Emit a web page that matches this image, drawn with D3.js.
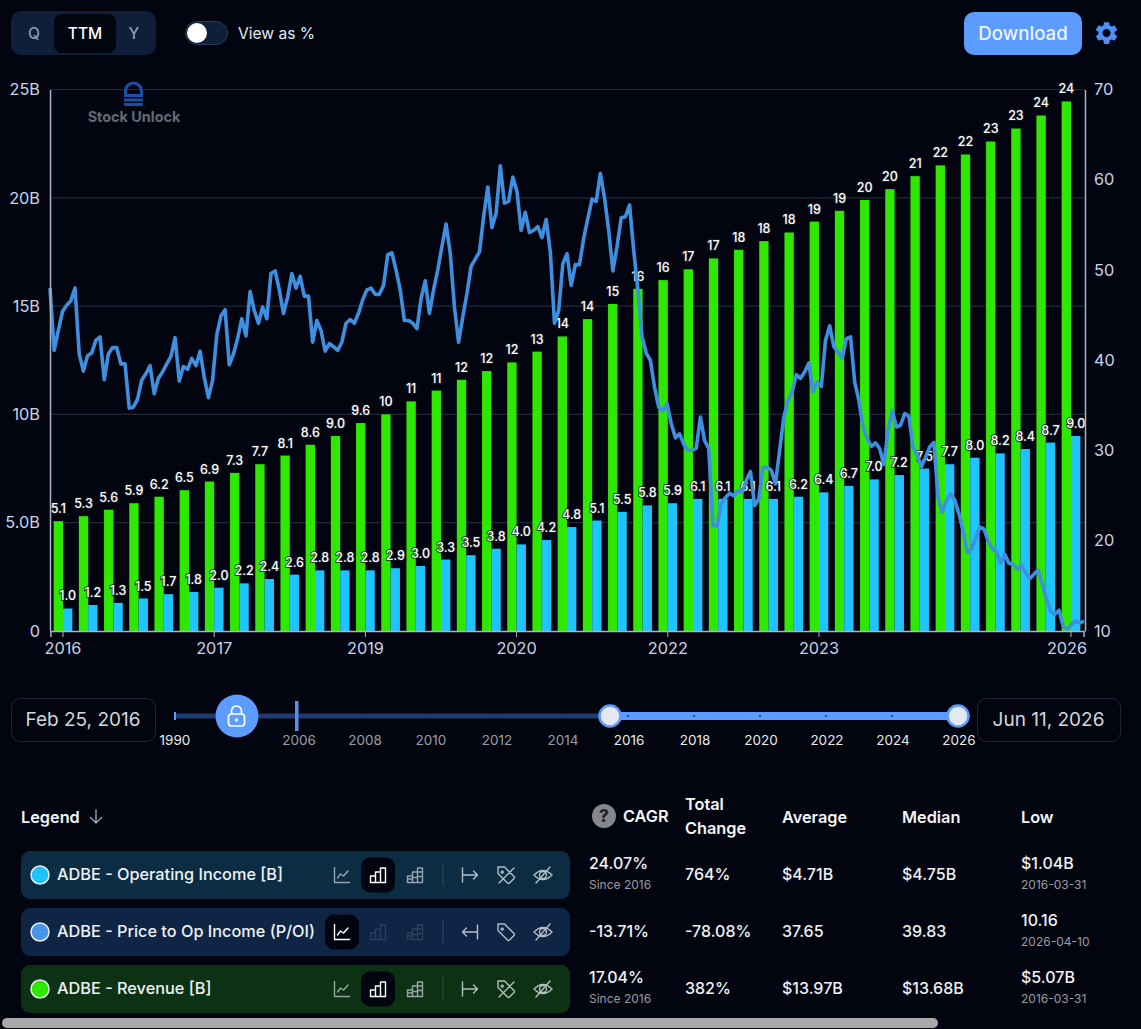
<!DOCTYPE html>
<html>
<head>
<meta charset="utf-8">
<script src="https://d3js.org/d3.v7.min.js"></script>
<style>
	html, body { margin: 0; padding: 0; background: #020510; overflow: hidden; }
	svg { display: block; font-family: Inter, "Noto Sans", sans-serif; }
	.barlabel { font-size: 12.5px; font-weight: 500; fill: #fff; stroke: #1a1d24; stroke-width: 1.6px; paint-order: stroke; text-anchor: middle; }
	.axis text { font-family: Inter, sans-serif; font-size: 16.3px; fill: #c9d3e6; }
	.axis .domain { stroke: #aab4c8; stroke-width: 1.5; }
	.axis .tick line { stroke: #aab4c8; }
	.icon { fill: none; stroke-width: 1.4; stroke-linecap: round; stroke-linejoin: round; }
</style>
</head>
<body>
<svg id="chart" width="1141" height="1029"></svg>
<script>
// quarter ends, first one 2016-03-31
var quarters = ["2016-03-31","2016-06-30","2016-09-30","2016-12-31","2017-03-31","2017-06-30","2017-09-30","2017-12-31",
	"2018-03-31","2018-06-30","2018-09-30","2018-12-31","2019-03-31","2019-06-30","2019-09-30","2019-12-31",
	"2020-03-31","2020-06-30","2020-09-30","2020-12-31","2021-03-31","2021-06-30","2021-09-30","2021-12-31",
	"2022-03-31","2022-06-30","2022-09-30","2022-12-31","2023-03-31","2023-06-30","2023-09-30","2023-12-31",
	"2024-03-31","2024-06-30","2024-09-30","2024-12-31","2025-03-31","2025-06-30","2025-09-30","2025-12-31","2026-03-31"]
var xTickQuarters = ["2016-03-31","2017-09-30","2019-03-31","2020-09-30","2022-03-31","2023-09-30","2026-03-31"]

var revenue = [5.07,5.3,5.6,5.9,6.2,6.5,6.9,7.3,7.7,8.1,8.6,9.0,9.6,10.0,10.6,11.1,11.6,12.0,12.4,12.9,13.6,
	14.4,15.1,15.8,16.2,16.7,17.2,17.6,18.0,18.4,18.9,19.4,19.9,20.4,21.0,21.5,22.0,22.6,23.2,23.8,24.45]

var opIncome = [1.04,1.2,1.3,1.5,1.7,1.8,2.0,2.2,2.4,2.6,2.8,2.8,2.8,2.9,3.0,3.3,3.5,3.8,4.0,4.2,4.8,
	5.1,5.5,5.8,5.9,6.1,6.1,6.1,6.1,6.2,6.4,6.7,7.0,7.2,7.5,7.7,8.0,8.2,8.4,8.7,9.0]

// price to op income, about two readings a month between the two dates below
var poiStart = "2016-02-25"
var poiEnd = "2026-06-11"
var priceToOpIncome = [48,41.1,43.3,45.4,46.1,46.6,48,40.7,38.8,40.5,40.8,42.2,42.6,37.85,40.7,41.4,41.4,39.6,39.6,34.7,
	34.8,35.7,37.8,38.5,39.4,36.3,38,38.7,39.6,40.4,42.5,37.7,39.3,39,40.2,39.4,41,38.1,35.85,37.8,
	42.8,44.9,45.6,39.5,40.7,42.4,44.6,42.7,47.6,45.5,44.1,45.9,44.6,49.6,49.9,47.8,45.2,47,49.6,48,
	49.3,47.1,47.1,42,44.4,43.3,41,41.85,41.5,41.1,42,44.1,44.5,44.1,45.2,46.7,47.8,48,47.3,47.3,
	48.3,51.7,51.9,50,47.8,44.4,44.4,44.1,43.5,46.85,48.8,45.2,47.8,50,52.6,55.1,51.85,45.9,42,44.8,
	47.4,50.4,51.2,52,55.9,59.2,54.7,56.3,61.55,57.4,57.6,60.3,58.7,54.4,56.4,54.15,54.4,54.8,53.6,55.6,
	52,44.1,45.5,50.7,51.8,48.3,50.6,50.6,53.5,55.7,57.85,57.6,60.7,58,54.4,49.9,52.6,55.8,55.9,57.2,
	52.2,47.8,42.6,40.8,40,37,34.8,34.4,35.2,33,31.4,31.85,30.7,30,30,30.25,33.7,31.1,30.2,21.7,
	21.6,24.1,24.8,25.25,25,25.55,25.35,26.7,27.65,23.9,24.6,28.15,28.15,27.8,26.3,30,33.7,35.55,36.5,38.4,
	38,38.7,39.7,36.5,37.6,37.1,42.2,43.8,41.5,40.9,40.2,42.4,42.6,37.6,35.55,32.6,31.3,30.45,30.85,30.2,
	28.45,32.2,34.45,32.6,32.8,34.1,33.8,30.4,29.45,28.2,29.25,30.4,30.9,24.8,23.15,24.45,25.2,24.5,23,21.1,
	18.7,19.1,20.2,21.5,21.3,20,19.1,18.8,17.5,18.5,17.5,17.4,16.85,17.3,16.5,15.8,16.3,16.75,15.2,13.5,
	12.2,11.85,12.3,10.55,10.16,10.75,11.1,10.9,11.1]

var leftTicks = [0,5,10,15,20,25]
var leftTickLabels = ["0","5.0B","10B","15B","20B","25B"]
var rightTicks = [10,20,30,40,50,60,70]
var sliderYears = [2006,2008,2010,2012,2014,2016,2018,2020,2022,2024,2026]

var seriesNames = ["ADBE - Operating Income [B]","ADBE - Price to Op Income (P/OI)","ADBE - Revenue [B]"]
var cagr = ["24.07%","-13.71%","17.04%"]
var cagrSince = ["Since 2016","","Since 2016"]
var totalChange = ["764%","-78.08%","382%"]
var average = ["$4.71B","37.65","$13.97B"]
var median = ["$4.75B","39.83","$13.68B"]
var low = ["$1.04B","10.16","$5.07B"]
var lowDate = ["2016-03-31","2026-04-10","2016-03-31"]

var green = "#2fe800", cyan = "#1fc4ff", lineBlue = "#3f8fe0", accent = "#5c9bff"

var svg = d3.select("#chart")
var top_ = 89.5, bottom = 631, left = 50, right = 1085

var x = d3.scaleBand().domain(quarters).range([50.4, 1083.6]).paddingInner(0.258).paddingOuter(0.129)
var xInner = d3.scaleBand().domain(["rev","op"]).range([0, x.bandwidth()])
var yLeft = d3.scaleLinear().domain([0, 25]).range([bottom, top_])
var yRight = d3.scaleLinear().domain([10, 70]).range([bottom, top_])
var xTime = d3.scaleTime().domain([new Date(poiStart), new Date(poiEnd)]).range([left, right - 1])

// grid
svg.append("g").selectAll("line").data(leftTicks.slice(1)).join("line")
	.attr("x1", left).attr("x2", right)
	.attr("y1", d => yLeft(d)).attr("y2", d => yLeft(d))
	.attr("stroke", "#222838").attr("stroke-width", 1.2)

// watermark
var mark = svg.append("g").attr("transform", "translate(133.5,95)")
mark.append("path").attr("fill", "none").attr("stroke", "#1f4fa3").attr("stroke-width", 3.2)
	.attr("d", "M-8,-1V-4A8,8 0 0 1 8,-4V-1")
mark.append("path").attr("fill", "none").attr("stroke", "#1f4fa3").attr("stroke-width", 3.2)
	.attr("d", "M-9.5,0.5H9.5 M-9.5,5H9.5 M-9.5,9.5H9.5")
svg.append("text").attr("x", 134).attr("y", 122).attr("text-anchor", "middle")
	.attr("font-size", 14.4).attr("font-weight", 700).attr("fill", "#646a75").text("Stock Unlock")

// bars
var groups = svg.append("g").selectAll("g").data(quarters).join("g")
	.attr("transform", d => "translate(" + x(d) + ",0)")
groups.append("rect").attr("x", xInner("rev")).attr("width", xInner.bandwidth())
	.attr("y", (d, i) => yLeft(revenue[i])).attr("height", (d, i) => bottom - yLeft(revenue[i]))
	.attr("fill", green)
groups.append("rect").attr("x", xInner("op")).attr("width", xInner.bandwidth())
	.attr("y", (d, i) => yLeft(opIncome[i])).attr("height", (d, i) => bottom - yLeft(opIncome[i]))
	.attr("fill", cyan)

function barText(v) {
	return v < 9.95 ? v.toFixed(1) : String(Math.round(v))
}
groups.append("text").attr("class", "barlabel")
	.attr("x", xInner("rev") + xInner.bandwidth() / 2)
	.attr("y", (d, i) => yLeft(revenue[i]) - 8)
	.text((d, i) => barText(revenue[i]))
groups.append("text").attr("class", "barlabel")
	.attr("x", xInner("op") + xInner.bandwidth() / 2)
	.attr("y", (d, i) => yLeft(opIncome[i]) - 8)
	.text((d, i) => barText(opIncome[i]))

// P/OI line, over bars and labels
var stepMs = (new Date(poiEnd) - new Date(poiStart)) / (priceToOpIncome.length - 1)
var line = d3.line()
	.x((d, i) => xTime(new Date(+new Date(poiStart) + i * stepMs)))
	.y(d => yRight(d))
svg.append("path").datum(priceToOpIncome).attr("d", line)
	.attr("fill", "none").attr("stroke", lineBlue).attr("stroke-width", 3.6).attr("stroke-linejoin", "round")

// axes
var axL = svg.append("g").attr("class", "axis").attr("transform", "translate(" + left + ",0)")
	.call(d3.axisLeft(yLeft).tickValues(leftTicks).tickFormat((d, i) => leftTickLabels[i]).tickSize(0).tickPadding(10))
var axR = svg.append("g").attr("class", "axis").attr("transform", "translate(" + right + ",0)")
	.call(d3.axisRight(yRight).tickValues(rightTicks).tickSize(0).tickPadding(9))
var axB = svg.append("g").attr("class", "axis").attr("transform", "translate(0," + bottom + ")")
	.call(d3.axisBottom(x).tickValues(xTickQuarters).tickFormat(d => d.slice(0, 4)).tickSize(6).tickPadding(5))
axB.selectAll("text").attr("dx", d => d == "2026-03-31" ? -4 : 0)

// top controls
svg.append("rect").attr("x", 11).attr("y", 11).attr("width", 145).attr("height", 44).attr("rx", 10).attr("fill", "#0e1f3a")
svg.append("rect").attr("x", 54).attr("y", 14).attr("width", 62).attr("height", 39).attr("rx", 8).attr("fill", "#02050f")
var periods = [["Q", 34, "#8d9bb0"], ["TTM", 85, "#fff"], ["Y", 134, "#8d9bb0"]]
svg.append("g").selectAll("text").data(periods).join("text")
	.attr("x", d => d[1]).attr("y", 38.5).attr("text-anchor", "middle")
	.attr("font-size", 15.5).attr("font-weight", 500).attr("fill", d => d[2]).text(d => d[0])
svg.append("rect").attr("x", 185.5).attr("y", 21.5).attr("width", 42).attr("height", 23).attr("rx", 11.5)
	.attr("fill", "#0e1f3a").attr("stroke", "#2b3b57")
svg.append("circle").attr("cx", 197).attr("cy", 33).attr("r", 10).attr("fill", "#fff")
svg.append("text").attr("x", 238).attr("y", 38.5).attr("font-size", 15.6).attr("fill", "#e3e8f0").text("View as %")
svg.append("rect").attr("x", 964).attr("y", 12).attr("width", 118).attr("height", 43).attr("rx", 10).attr("fill", accent)
svg.append("text").attr("x", 1023).attr("y", 39.5).attr("text-anchor", "middle").attr("font-size", 18.7)
	.attr("font-weight", 500).attr("fill", "#eef4ff").text("Download")
svg.append("path").attr("transform", "translate(1093,19.5) scale(1.13)").attr("fill", "#4f8ef7")
	.attr("d", "M19.14,12.94c0.04-0.3,0.06-0.61,0.06-0.94c0-0.32-0.02-0.64-0.07-0.94l2.03-1.58c0.18-0.14,0.23-0.41,0.12-0.61l-1.92-3.32c-0.12-0.22-0.37-0.29-0.59-0.22l-2.39,0.96c-0.5-0.38-1.03-0.7-1.62-0.94L14.4,2.81c-0.04-0.24-0.24-0.41-0.48-0.41h-3.84c-0.24,0-0.43,0.17-0.47,0.41L9.25,5.35C8.66,5.59,8.12,5.92,7.63,6.29L5.24,5.33c-0.22-0.08-0.47,0-0.59,0.22L2.74,8.87C2.62,9.08,2.66,9.34,2.86,9.48l2.03,1.58C4.84,11.36,4.8,11.69,4.8,12s0.02,0.64,0.07,0.94l-2.03,1.58c-0.18,0.14-0.23,0.41-0.12,0.61l1.92,3.32c0.12,0.22,0.37,0.29,0.59,0.22l2.39-0.96c0.5,0.38,1.03,0.7,1.62,0.94l0.36,2.54c0.05,0.24,0.24,0.41,0.48,0.41h3.84c0.24,0,0.44-0.17,0.47-0.41l0.36-2.54c0.59-0.24,1.13-0.56,1.62-0.94l2.39,0.96c0.22,0.08,0.47,0,0.59-0.22l1.92-3.32c0.12-0.22,0.07-0.47-0.12-0.61L19.14,12.94z M12,15.6c-1.98,0-3.6-1.62-3.6-3.6s1.62-3.6,3.6-3.6s3.6,1.62,3.6,3.6S13.98,15.6,12,15.6z")

// date boxes
function dateBox(x0, w, label) {
	svg.append("rect").attr("x", x0 + 0.5).attr("y", 698.5).attr("width", w).attr("height", 43).attr("rx", 9)
		.attr("fill", "none").attr("stroke", "#1f2636")
	svg.append("text").attr("x", x0 + w / 2).attr("y", 726).attr("text-anchor", "middle")
		.attr("font-size", 19).attr("fill", "#d4d6da").text(label)
}
dateBox(11, 144, "Feb 25, 2016")
dateBox(977, 143, "Jun 11, 2026")

// range slider
var sy = 716
var sliderX = d3.scaleLinear().domain([1990, 2006, 2026]).range([175, 298, 958])
svg.append("rect").attr("x", sliderX(1990)).attr("y", sy - 2.5).attr("width", sliderX(2026) - sliderX(1990)).attr("height", 5).attr("fill", "#1f3a70")
svg.append("rect").attr("x", 610).attr("y", sy - 4).attr("width", 348).attr("height", 8).attr("fill", accent)
svg.append("g").selectAll("circle").data(sliderYears.slice(1)).join("circle")
	.attr("cx", d => sliderX(d)).attr("cy", sy).attr("r", 1).attr("fill", "#1a3566")
svg.append("rect").attr("x", sliderX(1990) - 1).attr("y", sy - 4).attr("width", 2).attr("height", 8).attr("fill", accent)
svg.append("rect").attr("x", 295).attr("y", 701).attr("width", 3.5).attr("height", 30).attr("fill", "#5c8fe8")
svg.append("text").attr("x", sliderX(1990)).attr("y", 744.5).attr("text-anchor", "middle").attr("font-size", 13.5).attr("fill", "#e8e8e8").text("1990")
svg.append("g").selectAll("text").data(sliderYears).join("text")
	.attr("x", d => sliderX(d) + 1).attr("y", 744.5).attr("text-anchor", "middle").attr("font-size", 13.5)
	.attr("fill", d => d >= 2016 ? "#e8e8e8" : "#9a9da3").text(d => d)
svg.append("g").selectAll("circle").data([610, 958]).join("circle")
	.attr("cx", d => d).attr("cy", sy).attr("r", 10.5).attr("fill", "#e4e8f0").attr("stroke", accent).attr("stroke-width", 2.5)
svg.append("circle").attr("cx", 237).attr("cy", sy).attr("r", 21.5).attr("fill", accent)
var lock = svg.append("g").attr("transform", "translate(236.5," + sy + ")").attr("fill", "none").attr("stroke", "#fff").attr("stroke-width", 1.7)
lock.append("rect").attr("x", -8).attr("y", -2).attr("width", 16).attr("height", 12).attr("rx", 3)
lock.append("path").attr("d", "M-5,-2V-5A5,5 0 0 1 5,-5V-2")
lock.append("circle").attr("cx", 0).attr("cy", 4).attr("r", 0.8).attr("fill", "#fff")

// table header
function bold(xp, yp, t) {
	svg.append("text").attr("x", xp).attr("y", yp).attr("font-size", 16.3).attr("font-weight", 600).attr("fill", "#f4f5f7").text(t)
}
bold(21, 822.5, "Legend")
svg.append("path").attr("class", "icon").attr("stroke", "#9aa0ab").attr("d", "M96,810V823 M90.5,817.5L96,823L101.5,817.5")
svg.append("circle").attr("cx", 604).attr("cy", 816).attr("r", 12).attr("fill", "#85878d")
svg.append("text").attr("x", 604).attr("y", 822).attr("text-anchor", "middle").attr("font-size", 17).attr("font-weight", 800).attr("fill", "#23252b").text("?")
bold(623, 821.5, "CAGR")
bold(685, 809.5, "Total")
bold(685, 833.5, "Change")
bold(782, 822.5, "Average")
bold(902, 822.5, "Median")
bold(1021, 822.5, "Low")

// legend rows
var rowTop = [851, 908, 965]
var rowFill = ["#0b2c42", "#0e2545", "#0d3213"]
var dotFill = [cyan, "#4a95e8", green]
var activeIcon = [1, 0, 1]
var iconPaths = [
	"M-7.5,-7.5V7.5H7.5 M-4.5,3L-1.5,-1L1.5,1L6,-4",
	"M-7.5,7.5H7.5 M-7.5,7.5V1H-2.5V7.5 M-2.5,7.5V-3H2.5V7.5 M2.5,7.5V-7H7.5V7.5",
	"M-7.5,7.5H7.5 M-7.5,7.5V1H-2.5V7.5 M-2.5,7.5V-3H2.5V7.5 M2.5,7.5V-7H7.5V7.5 M-7.5,4H-2.5 M-2.5,2.5H2.5 M2.5,-3H7.5 M2.5,1.5H7.5"
]
var arrowRight = "M-7.5,-7V7 M-7.5,0H7.5 M3.5,-4L7.5,0L3.5,4"
var arrowLeft = "M7.5,-7V7 M7.5,0H-7.5 M-3.5,-4L-7.5,0L-3.5,4"
var tag = "M-8,-8H-1.5L8,1.5Q9,2.5 8,3.5L3.5,8Q2.5,9 1.5,8L-8,-1.5Z M-4.5,-3.5A1,1 0 1 0 -4.4,-3.6"
var tagOff = tag + " M-7,8L8,-7"
var eyeOff = "M-9,0Q0,-9 9,0Q0,9 -9,0Z M-3.5,0A3.5,3.5 0 1 0 3.5,0A3.5,3.5 0 1 0 -3.5,0 M-7,8L7,-8"
var iconX = [342, 378, 415]

var rows = svg.append("g").selectAll("g").data(seriesNames).join("g")
	.attr("transform", (d, i) => "translate(0," + rowTop[i] + ")")
rows.append("rect").attr("x", 21).attr("width", 549).attr("height", 48).attr("rx", 9).attr("fill", (d, i) => rowFill[i])
rows.append("circle").attr("cx", 40).attr("cy", 24).attr("r", 9).attr("fill", (d, i) => dotFill[i]).attr("stroke", "#e8eef5").attr("stroke-width", 1.5)
rows.append("text").attr("x", 57).attr("y", 29).attr("font-size", 16.3).attr("font-weight", 500).attr("fill", "#eef1f4").text(d => d)
rows.append("rect").attr("x", (d, i) => iconX[activeIcon[i]] - 17).attr("y", 6.5).attr("width", 34).attr("height", 35).attr("rx", 9).attr("fill", "#02050f")
rows.each(function(d, i) {
	var row = d3.select(this)
	iconPaths.forEach((p, k) => {
		var on = k == activeIcon[i]
		var dim = i == 1 && !on
		row.append("path").attr("class", "icon").attr("transform", "translate(" + iconX[k] + ",24)").attr("d", p)
			.attr("stroke", on ? "#fff" : "#cfd8de").attr("stroke-opacity", on ? 1 : (dim ? 0.15 : 0.7))
	})
	row.append("line").attr("x1", 443).attr("x2", 443).attr("y1", 12).attr("y2", 35).attr("stroke", "#cfd8de").attr("stroke-opacity", 0.2)
	row.append("path").attr("class", "icon").attr("transform", "translate(470,24)").attr("d", i == 1 ? arrowLeft : arrowRight).attr("stroke", "#cfd8de").attr("stroke-opacity", 0.85)
	row.append("path").attr("class", "icon").attr("transform", "translate(506,24)").attr("d", i == 1 ? tag : tagOff).attr("stroke", "#cfd8de").attr("stroke-opacity", 0.85)
	row.append("path").attr("class", "icon").attr("transform", "translate(543,24)").attr("d", eyeOff).attr("stroke", "#cfd8de").attr("stroke-opacity", 0.85)

	function cell(xp, big, small) {
		row.append("text").attr("x", xp).attr("y", small ? 17.5 : 28.5).attr("font-size", 16).attr("font-weight", 500).attr("fill", "#f0f1f3").text(big)
		if(small) row.append("text").attr("x", xp).attr("y", 38).attr("font-size", 12).attr("fill", "#9a9ca2").text(small)
	}
	cell(589, cagr[i], cagrSince[i])
	cell(685, totalChange[i])
	cell(782, average[i])
	cell(902, median[i])
	cell(1021, low[i], lowDate[i])
})

// page scrollbar
svg.append("rect").attr("x", 2).attr("y", 1018).attr("width", 936).attr("height", 10).attr("rx", 5).attr("fill", "#a8a8a8")
</script>
</body>
</html>
